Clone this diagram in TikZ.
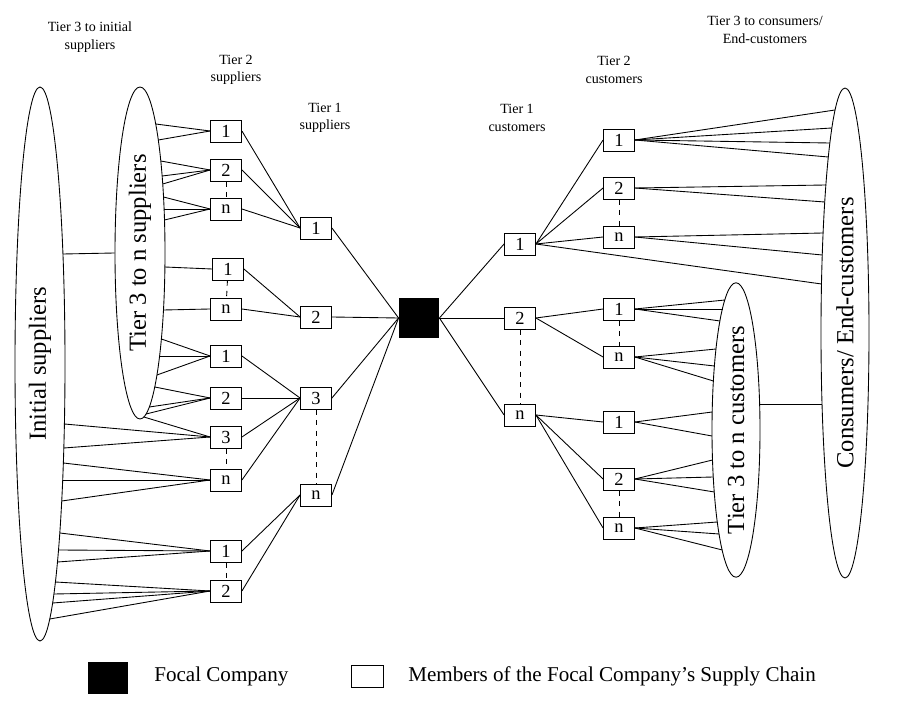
\documentclass[tikz,border=0pt]{standalone}
\usepackage{fontspec}
\setmainfont{Liberation Serif}
\usetikzlibrary{shapes.geometric}
\newcommand\fanto[7]{\foreach \yy in {#7}{\draw (#1) -- ({#2 #3 #4*sqrt(1-((\yy-#5)/#6)^2)},\yy);}}
\begin{document}
\begin{tikzpicture}[x=0.02cm,y=-0.02cm,line width=0.5pt,
  box/.style={draw,minimum width=0.62cm,minimum height=0.44cm,inner sep=0pt,font=\fontsize{10.5}{12}\selectfont},
  ell/.style={draw,ellipse,inner sep=0pt,rotate=90,font=\fontsize{14}{16}\selectfont},
  lab/.style={align=center,font=\fontsize{8}{10}\selectfont},
  dsh/.style={dashed}]
\useasboundingbox (0,0) rectangle (900,702);
% ellipses
\node[ell,minimum width=554*0.02cm,minimum height=50*0.02cm] (ini) at (40,364) {Initial suppliers};
\node[ell,minimum width=332*0.02cm,minimum height=50*0.02cm] (t3s) at (140,253) {Tier 3 to n suppliers};
\node[ell,minimum width=292*0.02cm,minimum height=48*0.02cm] (t3c) at (736,430) {Tier 3 to n customers};
\node[ell,minimum width=490*0.02cm,minimum height=48*0.02cm] (con) at (845,333) {Consumers/ End-customers};
% labels
\node[lab] (l1) at (90,37) {Tier 3 to initial\\suppliers};
\node[lab] (l2) at (236,70) {Tier 2\\suppliers};
\node[lab] (l3) at (325,118) {Tier 1\\suppliers};
\node[lab] (l4) at (517,118) {Tier 1\\customers};
\node[lab] (l5) at (614,70) {Tier 2\\customers};
\node[lab] (l6) at (765,30) {Tier 3 to consumers/\\End-customers};
% focal
\node[fill=black,minimum size=0.8cm,inner sep=0pt] (f) at (419,318) {};
% tier2 suppliers
\node[box] (a1) at (226,131) {1};
\node[box] (a2) at (226,170) {2};
\node[box] (an) at (226,209) {n};
\node[box] (b1) at (228,269) {1};
\node[box] (bn) at (226,309) {n};
\node[box] (c1) at (226,356) {1};
\node[box] (c2) at (226,398) {2};
\node[box] (c3) at (226,437) {3};
\node[box] (cn) at (226,480) {n};
\node[box] (d1) at (226,551) {1};
\node[box] (d2) at (226,591) {2};
% tier1 suppliers
\node[box] (s1) at (316,228) {1};
\node[box] (s2) at (316,317) {2};
\node[box] (s3) at (316,398) {3};
\node[box] (sn) at (316,495) {n};
% tier1 customers
\node[box] (k1) at (520,244) {1};
\node[box] (k2) at (520,318) {2};
\node[box] (kn) at (520,415) {n};
% tier2 customers
\node[box] (p1) at (619,140) {1};
\node[box] (p2) at (619,188) {2};
\node[box] (pn) at (619,237) {n};
\node[box] (q1) at (619,309) {1};
\node[box] (qn) at (619,357) {n};
\node[box] (r1) at (619,422) {1};
\node[box] (r2) at (619,479) {2};
\node[box] (rn) at (619,528) {n};
% dashed
\draw[dsh] (a2) -- (an); \draw[dsh] (b1) -- (bn); \draw[dsh] (c3) -- (cn);
\draw[dsh] (d1) -- (d2); \draw[dsh] (s3) -- (sn);
\draw[dsh] (p2) -- (pn); \draw[dsh] (q1) -- (qn); \draw[dsh] (r2) -- (rn);
\draw[dsh] (k2) -- (kn);
% tier2 -> tier1 suppliers
\foreach \a in {a1,a2,an} \draw (\a.east) -- (s1.west);
\foreach \a in {b1,bn} \draw (\a.east) -- (s2.west);
\foreach \a in {c1,c2,c3,cn} \draw (\a.east) -- (s3.west);
\foreach \a in {d1,d2} \draw (\a.east) -- (sn.west);
\foreach \a in {s1,s2,s3,sn} \draw (\a.east) -- (f.west);
% focal -> tier1 customers
\foreach \a in {k1,k2,kn} \draw (f.east) -- (\a.west);
\foreach \a in {p1,p2,pn} \draw (k1.east) -- (\a.west);
\foreach \a in {q1,qn} \draw (k2.east) -- (\a.west);
\foreach \a in {r1,r2,rn} \draw (kn.east) -- (\a.west);
% supplier fans
\fanto{a1.west}{140}{+}{25}{253}{166}{124,140}
\fanto{a2.west}{140}{+}{25}{253}{166}{161,176,184}
\fanto{an.west}{140}{+}{25}{253}{166}{197,209,220}
\fanto{b1.west}{140}{+}{25}{253}{166}{267}
\fanto{bn.west}{140}{+}{25}{253}{166}{310}
\fanto{c1.west}{140}{+}{25}{253}{166}{339,356,375}
\fanto{c2.west}{140}{+}{25}{253}{166}{387,407,414}
\fanto{c3.west}{140}{+}{25}{253}{166}{417}
\fanto{c3.west}{40}{+}{25}{364}{277}{424,448}
\fanto{cn.west}{40}{+}{25}{364}{277}{463,480,501}
\fanto{d1.west}{40}{+}{25}{364}{277}{533,550,562}
\fanto{d2.west}{40}{+}{25}{364}{277}{582,594,603,619}
\fanto{t3s.north}{40}{+}{25}{364}{277}{254}
% customer fans
\fanto{p1.east}{845}{-}{24}{333}{245}{110,128,143,157}
\fanto{p2.east}{845}{-}{24}{333}{245}{185,202}
\fanto{pn.east}{845}{-}{24}{333}{245}{233,255}
\fanto{k1.east}{845}{-}{24}{333}{245}{284}
\fanto{q1.east}{736}{-}{24}{430}{146}{300,309,321}
\fanto{qn.east}{736}{-}{24}{430}{146}{349,366,381}
\fanto{r1.east}{736}{-}{24}{430}{146}{412,436}
\fanto{r2.east}{736}{-}{24}{430}{146}{460,477,492}
\fanto{rn.east}{736}{-}{24}{430}{146}{522,534,550}
\coordinate (cj) at ({736+24*sqrt(1-(26/146)^2)},404);
\fanto{cj}{845}{-}{24}{333}{245}{404}
% legend
\node[fill=black,minimum width=0.8cm,minimum height=0.64cm,inner sep=0pt] (lg1) at (108,678) {};
\node[anchor=west,font=\fontsize{12}{14}\selectfont] (lt1) at (148,676) {Focal Company};
\node[draw,minimum width=0.64cm,minimum height=0.44cm,inner sep=0pt] (lg2) at (367,676) {};
\node[anchor=west,font=\fontsize{12}{14}\selectfont] (lt2) at (402,676) {Members of the Focal Company’s Supply Chain};
\end{tikzpicture}
\end{document}
